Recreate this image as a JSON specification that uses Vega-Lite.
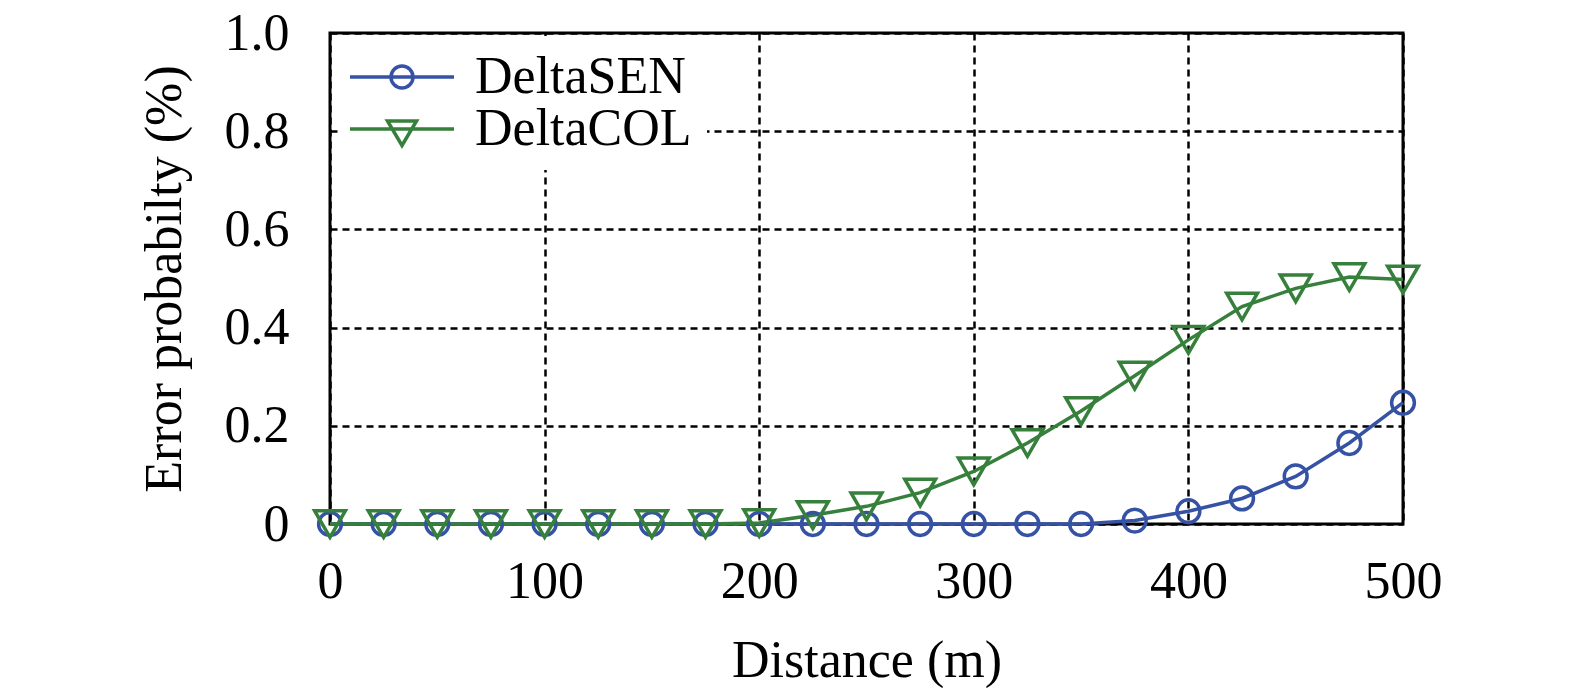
{
  "$schema": "https://vega.github.io/schema/vega-lite/v6.json",
  "width": 1073,
  "height": 491,
  "autosize": {"type": "none"},
  "padding": {"left": 330, "top": 33, "right": 172, "bottom": 175},
  "background": "white",
  "config": {
    "font": "Liberation Serif",
    "view": {"stroke": "black", "strokeWidth": 3},
    "axis": {
      "labelFont": "Liberation Serif",
      "titleFont": "Liberation Serif",
      "labelFontSize": 52,
      "titleFontSize": 52,
      "labelColor": "black",
      "titleColor": "black",
      "titleFontWeight": "normal",
      "domain": false,
      "ticks": false,
      "gridColor": "black",
      "gridWidth": 2.5,
      "gridDash": [7, 5],
      "gridOpacity": 1
    }
  },
  "data": {
    "values": [
      {"d": 0, "s": "DeltaSEN", "p": 0},
      {"d": 25, "s": "DeltaSEN", "p": 0},
      {"d": 50, "s": "DeltaSEN", "p": 0},
      {"d": 75, "s": "DeltaSEN", "p": 0},
      {"d": 100, "s": "DeltaSEN", "p": 0},
      {"d": 125, "s": "DeltaSEN", "p": 0},
      {"d": 150, "s": "DeltaSEN", "p": 0},
      {"d": 175, "s": "DeltaSEN", "p": 0},
      {"d": 200, "s": "DeltaSEN", "p": 0},
      {"d": 225, "s": "DeltaSEN", "p": 0},
      {"d": 250, "s": "DeltaSEN", "p": 0},
      {"d": 275, "s": "DeltaSEN", "p": 0},
      {"d": 300, "s": "DeltaSEN", "p": 0},
      {"d": 325, "s": "DeltaSEN", "p": 0},
      {"d": 350, "s": "DeltaSEN", "p": 0},
      {"d": 375, "s": "DeltaSEN", "p": 0.007},
      {"d": 400, "s": "DeltaSEN", "p": 0.026},
      {"d": 425, "s": "DeltaSEN", "p": 0.052},
      {"d": 450, "s": "DeltaSEN", "p": 0.097},
      {"d": 475, "s": "DeltaSEN", "p": 0.165},
      {"d": 500, "s": "DeltaSEN", "p": 0.247},
      {"d": 0, "s": "DeltaCOL", "p": 0},
      {"d": 25, "s": "DeltaCOL", "p": 0},
      {"d": 50, "s": "DeltaCOL", "p": 0},
      {"d": 75, "s": "DeltaCOL", "p": 0},
      {"d": 100, "s": "DeltaCOL", "p": 0},
      {"d": 125, "s": "DeltaCOL", "p": 0},
      {"d": 150, "s": "DeltaCOL", "p": 0},
      {"d": 175, "s": "DeltaCOL", "p": 0},
      {"d": 200, "s": "DeltaCOL", "p": 0.002},
      {"d": 225, "s": "DeltaCOL", "p": 0.018},
      {"d": 250, "s": "DeltaCOL", "p": 0.036},
      {"d": 275, "s": "DeltaCOL", "p": 0.064},
      {"d": 300, "s": "DeltaCOL", "p": 0.107},
      {"d": 325, "s": "DeltaCOL", "p": 0.165},
      {"d": 350, "s": "DeltaCOL", "p": 0.23},
      {"d": 375, "s": "DeltaCOL", "p": 0.302},
      {"d": 400, "s": "DeltaCOL", "p": 0.375},
      {"d": 425, "s": "DeltaCOL", "p": 0.443},
      {"d": 450, "s": "DeltaCOL", "p": 0.48},
      {"d": 475, "s": "DeltaCOL", "p": 0.503},
      {"d": 500, "s": "DeltaCOL", "p": 0.498}
    ]
  },
  "encoding": {
    "x": {
      "field": "d", "type": "quantitative",
      "scale": {"domain": [0, 500], "nice": false, "zero": false},
      "axis": {"values": [0, 100, 200, 300, 400, 500], "title": "Distance (m)", "labelPadding": 32, "titlePadding": 28, "labelFlush": false}
    },
    "y": {
      "field": "p", "type": "quantitative",
      "scale": {"domain": [0, 1], "nice": false},
      "axis": {"values": [0, 0.2, 0.4, 0.6, 0.8, 1.0], "title": "Error probabilty (%)", "labelPadding": 41, "titlePadding": 33,
        "labelExpr": "datum.value == 0 ? '0' : format(datum.value, '.1f')"}
    },
    "color": {
      "field": "s", "type": "nominal",
      "scale": {"domain": ["DeltaSEN", "DeltaCOL"], "range": ["#3652a5", "#36803c"]},
      "legend": {
        "title": null,
        "orient": "none",
        "legendX": 8,
        "legendY": 3,
        "padding": 15,
        "fillColor": "white",
        "strokeColor": null,
        "labelFont": "Liberation Serif",
        "labelFontSize": 52,
        "labelColor": "black",
        "labelLimit": 400,
        "symbolSize": 100,
        "symbolOffset": 23,
        "labelOffset": 47,
        "rowPadding": -2,
        "symbolStrokeWidth": 3.5,
        "symbolType": "circle",
        "encode": {
          "symbols": {
            "update": {
              "size": {"value": 100},
              "fill": {"value": "transparent"},
              "strokeWidth": {"value": 3.5},
              "shape": {"signal": "datum.value == 'DeltaSEN' ? 'M-10.4,0H10.4M-2.2,0A2.2,2.2 0 1,0 2.2,0A2.2,2.2 0 1,0 -2.2,0' : 'M-10.4,0H10.4M-2.9,-1.6L2.9,-1.6L0,3.3Z'"}
            }
          }
        }
      }
    }
  },
  "layer": [
    {
      "mark": {"type": "line", "strokeWidth": 3.5}
    },
    {
      "transform": [{"filter": "datum.s == 'DeltaSEN'"}],
      "mark": {"type": "point", "shape": "circle", "size": 520, "filled": false, "strokeWidth": 3.5, "opacity": 1}
    },
    {
      "transform": [{"filter": "datum.s == 'DeltaCOL'"}],
      "mark": {"type": "point", "shape": "triangle-down", "size": 950, "filled": false, "strokeWidth": 3.5, "opacity": 1}
    }
  ]
}
